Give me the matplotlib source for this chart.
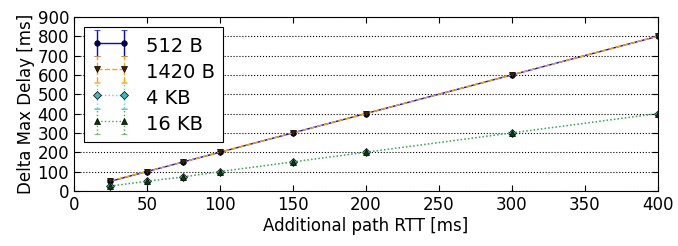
import matplotlib
matplotlib.use("Agg")
import matplotlib.pyplot as plt
from matplotlib.container import ErrorbarContainer
from matplotlib.legend_handler import HandlerErrorbar

# additional RTT [ms]
rtt = [25, 50, 75, 100, 150, 200, 300, 400]

# delta max delay [ms] per message size
d_512 = [50, 100, 150, 200, 300, 400, 600, 800]
d_1420 = [52, 100, 150, 200, 300, 400, 600, 800]
d_4k = [25, 50, 73, 100, 150, 200, 300, 400]
d_16k = [25, 50, 72, 100, 150, 200, 300, 400]

e_512 = [4, 3, 3, 3, 3, 3, 3, 3]
e_1420 = [8, 4, 6, 4, 3, 3, 4, 3]
e_4k = [4, 4, 6, 3, 3, 3, 3, 3]
e_16k = [4, 4, 6, 3, 3, 3, 3, 3]

plt.rcParams['font.family'] = ['DejaVu Sans']
plt.rcParams['font.size'] = 12

fig = plt.figure(figsize=(6.78, 2.46), dpi=100)
ax = fig.add_axes([0.109, 0.224, 0.861, 0.707])

series = [
    (d_512, e_512, '512 B', 'blue', '-', 'o', '#000060'),
    (d_1420, e_1420, '1420 B', 'orange', '--', 'v', '#3a2400'),
    (d_4k, e_4k, '4 KB', '#66d0d0', ':', 'D', '#40b8c0'),
    (d_16k, e_16k, '16 KB', '#44aa44', ':', '^', '#004000'),
]

for y, err, lab, col, ls, mk, mfc in series:
    eb = ax.errorbar(rtt, y, yerr=err, label=lab, color=col, ls=ls, lw=1,
                     marker=mk, markersize=4, mfc=mfc, mec='black', mew=0.5,
                     capsize=2.5, elinewidth=1)
    for c in eb[2]:
        c.set_linestyle(ls)

ax.set_xlim(0, 400)
ax.set_ylim(0, 900)
ax.set_xticks(range(0, 401, 50))
ax.set_yticks(range(0, 901, 100))
ax.tick_params(direction='in', top=True, right=True, length=4)
ax.yaxis.grid(True, linestyle=':', color='black', lw=0.8)
ax.set_xlabel('Additional path RTT [ms]', labelpad=2)
ax.set_ylabel('Delta Max Delay [ms]', labelpad=2)

leg = ax.legend(loc='upper left', numpoints=2, fancybox=False, framealpha=1,
                edgecolor='black', handlelength=2.0, handleheight=1.3,
                handletextpad=0.8, borderpad=0.4, labelspacing=0.25,
                borderaxespad=0.5, fontsize=14,
                handler_map={ErrorbarContainer: HandlerErrorbar(yerr_size=0.65)})
leg.get_frame().set_linewidth(0.8)

fig.savefig('out.png', dpi=100)
